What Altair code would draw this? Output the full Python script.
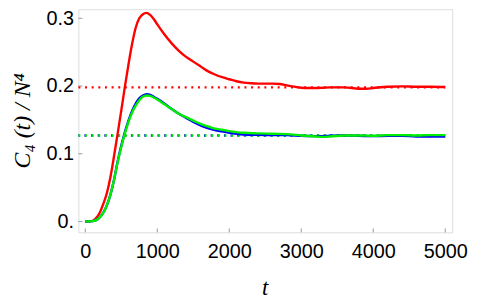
import altair as alt
import pandas as pd

t_red = [0, 100, 150, 200, 250, 300, 350, 400, 450, 500, 550, 600, 650, 700, 750, 800, 850, 900, 950, 1000,
         1100, 1200, 1300, 1400, 1500, 1600, 1700, 1800, 1900, 2000, 2100, 2200, 2300, 2400, 2500, 2600, 2700,
         2800, 2900, 3000, 3100, 3200, 3300, 3400, 3600, 3800, 3900, 4000, 4200, 4400, 4600, 4800, 5000]
red = [0, 0.001, 0.005, 0.013, 0.026, 0.042, 0.066, 0.097, 0.130, 0.164, 0.199, 0.232, 0.262, 0.286, 0.300,
       0.306, 0.308, 0.305, 0.299, 0.291, 0.276, 0.263, 0.252, 0.243, 0.236, 0.229, 0.222, 0.217, 0.213, 0.210,
       0.207, 0.205, 0.204, 0.2035, 0.2035, 0.2035, 0.203, 0.201, 0.199, 0.1975, 0.197, 0.197, 0.1975, 0.198,
       0.198, 0.196, 0.196, 0.197, 0.199, 0.1995, 0.199, 0.199, 0.1985]

t_gb = [0, 100, 150, 200, 250, 300, 350, 400, 450, 500, 550, 600, 650, 700, 750, 800, 850, 900, 950, 1000,
        1100, 1200, 1300, 1400, 1500, 1600, 1700, 1800, 1900, 2000, 2100, 2200, 2300, 2400, 2600, 2800, 3000,
        3200, 3300, 3400, 3600, 3800, 4000, 4200, 4400, 4600, 4800, 5000]
green = [0, 0.0005, 0.002, 0.006, 0.013, 0.024, 0.040, 0.062, 0.088, 0.110, 0.130, 0.147, 0.161, 0.171, 0.179,
         0.184, 0.186, 0.1855, 0.183, 0.180, 0.173, 0.166, 0.159, 0.154, 0.149, 0.144, 0.1405, 0.137, 0.1355,
         0.1335, 0.132, 0.131, 0.1305, 0.130, 0.1295, 0.129, 0.127, 0.1255, 0.125, 0.1255, 0.127, 0.127, 0.1265,
         0.1275, 0.1275, 0.127, 0.1275, 0.1275]
blue = [0, 0.0005, 0.002, 0.006, 0.013, 0.024, 0.040, 0.062, 0.089, 0.112, 0.132, 0.149, 0.163, 0.174, 0.182,
        0.186, 0.188, 0.187, 0.184, 0.181, 0.174, 0.166, 0.159, 0.153, 0.147, 0.142, 0.138, 0.135, 0.133, 0.131,
        0.1295, 0.1285, 0.128, 0.128, 0.1275, 0.1275, 0.1265, 0.126, 0.126, 0.1265, 0.127, 0.1265, 0.126, 0.1265,
        0.1265, 0.1255, 0.1255, 0.1255]

level_red = 0.198
level_gb = 0.127
x_ticks = [0, 1000, 2000, 3000, 4000, 5000]
y_ticks = [0, 0.1, 0.2, 0.3]

XDOM = [-96, 5096]
YDOM = [-0.016, 0.3133]

xs = alt.Scale(domain=XDOM, nice=False, zero=False)
ys = alt.Scale(domain=YDOM, nice=False, zero=False)

xax = alt.Axis(values=x_ticks, format="d", ticks=False, tickSize=0, domain=False, grid=False, labelFontSize=20,
               labelFont="Liberation Sans", labelColor="black", labelPadding=9,
               title="t", titleFont="Liberation Serif", titleFontStyle="italic", titleFontWeight="normal",
               titleFontSize=23, titleColor="black", titleX=188, titleY=56, titleBaseline="middle",
               titleAlign="center", labelFlush=False)
yax = alt.Axis(values=y_ticks, ticks=False, tickSize=0, domain=False, grid=False, labelFontSize=20,
               labelFont="Liberation Sans", labelColor="black", labelPadding=5,
               labelExpr="datum.value == 0 ? '0.' : format(datum.value, '.1f')",
               title="C₄ (t) / N⁴", titleFont="Liberation Serif", titleFontStyle="italic",
               titleFontWeight="normal", titleFontSize=24, titleColor="black", titleX=-56, titleY=112,
               titleAngle=-90, titleAlign="center", titleBaseline="middle", labelFlush=False)


def curve(ts, vs, color):
    df = pd.DataFrame({"t": ts, "v": vs})
    return alt.Chart(df).mark_line(color=color, strokeWidth=2.4, interpolate="monotone").encode(
        x=alt.X("t:Q", scale=xs, axis=xax), y=alt.Y("v:Q", scale=ys, axis=yax))


def dotted(level, color, offset):
    df = pd.DataFrame({"t": [XDOM[0], 5000], "v": [level, level]})
    return alt.Chart(df).mark_line(color=color, strokeWidth=2.4, strokeDash=[2, 4.7],
                                   strokeDashOffset=offset).encode(
        x=alt.X("t:Q", scale=xs, axis=xax), y=alt.Y("v:Q", scale=ys, axis=yax))


xt = alt.Chart(pd.DataFrame({"t": x_ticks})).mark_rule(color="#999999", strokeWidth=1).encode(
    x=alt.X("t:Q", scale=xs, axis=xax), y=alt.value(225), y2=alt.value(221))
yt = alt.Chart(pd.DataFrame({"v": y_ticks})).mark_rule(color="#999999", strokeWidth=1).encode(
    y=alt.Y("v:Q", scale=ys, axis=yax), x=alt.value(0), x2=alt.value(4))

chart = alt.layer(
    xt, yt,
    dotted(level_red, "#ff0000", 0),
    dotted(level_gb, "#0000ff", 0.6),
    dotted(level_gb, "#00ee00", 0),
    curve(t_red, red, "#ff0000"),
    curve(t_gb, blue, "#0000ff"),
    curve(t_gb, green, "#00ee00"),
).properties(
    width=377, height=225,
    autosize=alt.AutoSizeParams(type="none"),
    padding={"left": 71, "top": 0, "right": 18, "bottom": 70},
).configure_view(stroke="#a6a6a6", strokeWidth=1.3).configure(background="white")

chart.save("out.html", embed_options={"renderer": "svg", "actions": False})
